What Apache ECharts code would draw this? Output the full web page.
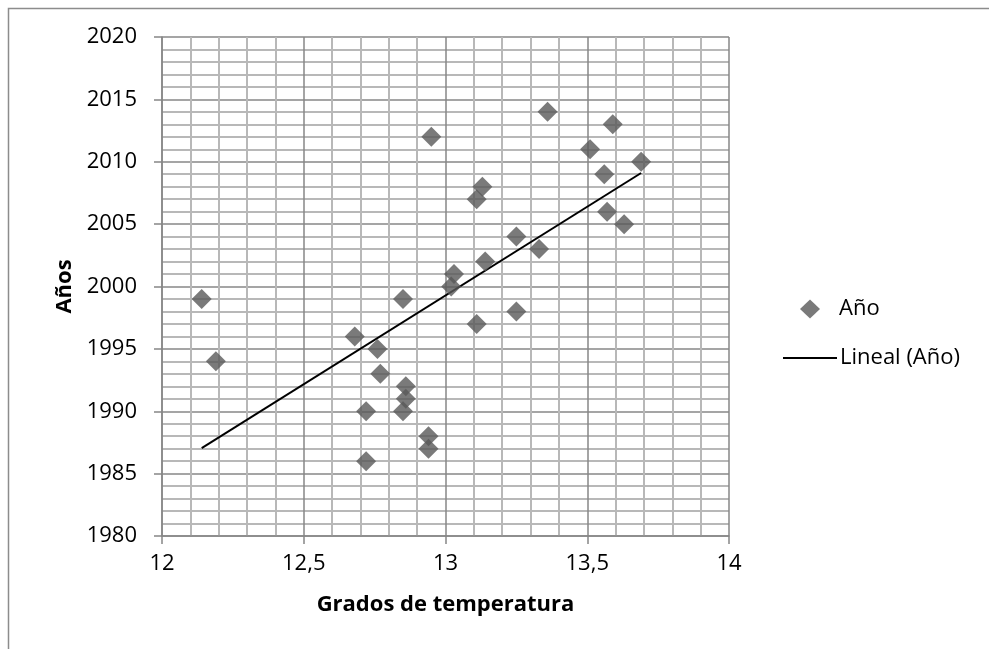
<!DOCTYPE html>
<html>
<head>
<meta charset="utf-8">
<title>Años vs grados de temperatura</title>
<script src="https://cdn.jsdelivr.net/npm/echarts@6/dist/echarts.min.js"></script>
<style>
  html, body { margin: 0; padding: 0; background: #fff; }
  #chart { width: 989px; height: 649px; }
</style>
</head>
<body>
<div id="chart"></div>
<script>
// Mean temperature (°C) recorded for each year
const temperatures = [
  12.14, 12.19, 12.68, 12.76, 12.77, 12.72, 12.72, 12.85, 12.86, 12.86,
  12.85, 12.94, 12.94, 12.95, 13.03, 13.02, 13.11, 13.13, 13.14, 13.11,
  13.25, 13.25, 13.33, 13.36, 13.51, 13.56, 13.59, 13.57, 13.63, 13.69
];
const years = [
  1999, 1994, 1996, 1995, 1993, 1990, 1986, 1999, 1992, 1991,
  1990, 1988, 1987, 2012, 2001, 2000, 2007, 2008, 2002, 1997,
  2004, 1998, 2003, 2014, 2011, 2009, 2013, 2006, 2005, 2010
];
const xTicks = [12, 12.5, 13, 13.5, 14];
const yTicks = [1980, 1985, 1990, 1995, 2000, 2005, 2010, 2015, 2020];

const FONT = 'Open Sans';

// Least-squares linear trend of year on temperature, drawn over the data range
function linearTrend(xs, ys) {
  const n = xs.length;
  let sx = 0, sy = 0, sxx = 0, sxy = 0;
  for (let i = 0; i < n; i++) {
    sx += xs[i]; sy += ys[i];
    sxx += xs[i] * xs[i]; sxy += xs[i] * ys[i];
  }
  const slope = (n * sxy - sx * sy) / (n * sxx - sx * sx);
  const intercept = (sy - slope * sx) / n;
  const x0 = Math.min.apply(null, xs), x1 = Math.max.apply(null, xs);
  return [[x0, intercept + slope * x0], [x1, intercept + slope * x1]];
}

const points = temperatures.map((t, i) => [t, years[i]]);
const trend = linearTrend(temperatures, years);

const legendText = { fontFamily: FONT, fontSize: 22, color: '#000' };

const chart = echarts.init(document.getElementById('chart'));
chart.setOption({
  animation: false,
  backgroundColor: '#ffffff',
  textStyle: { fontFamily: FONT },
  graphic: [{
    type: 'rect',
    shape: { x: 8.5, y: 8.5, width: 1100, height: 800 },
    style: { fill: 'none', stroke: '#8c8c8c', lineWidth: 1.5 },
    silent: true
  }],
  grid: { left: 162, right: 260, top: 37, bottom: 113 },
  legend: [
    {
      left: 800,
      top: 298,
      padding: 0,
      itemWidth: 20,
      itemHeight: 19,
      textStyle: Object.assign({ padding: [0, 0, 0, 14] }, legendText),
      data: [{ name: 'Año', icon: 'diamond' }]
    },
    {
      left: 783,
      top: 347,
      padding: 0,
      itemWidth: 54,
      itemHeight: 2,
      textStyle: Object.assign({ padding: [0, 0, 0, -2] }, legendText),
      data: [{ name: 'Lineal (Año)', icon: 'rect' }]
    }
  ],
  xAxis: {
    type: 'value',
    min: xTicks[0],
    max: xTicks[xTicks.length - 1],
    interval: 0.5,
    name: 'Grados de temperatura',
    nameLocation: 'middle',
    nameGap: 58,
    nameTextStyle: { fontFamily: FONT, fontSize: 22, fontWeight: 'bold', color: '#000' },
    axisLine: { lineStyle: { color: '#878787', width: 1.5 } },
    axisTick: { show: true, length: 8, inside: false, lineStyle: { color: '#878787', width: 1.5 } },
    axisLabel: {
      fontFamily: FONT, fontSize: 22, color: '#000', margin: 17,
      formatter: v => String(v).replace('.', ',')
    },
    splitLine: { show: true, lineStyle: { color: '#878787', width: 1.5 } },
    minorTick: { show: false, splitNumber: 5 },
    minorSplitLine: { show: true, lineStyle: { color: '#b8b8b8', width: 2 } }
  },
  yAxis: {
    type: 'value',
    min: yTicks[0],
    max: yTicks[yTicks.length - 1],
    interval: 5,
    name: 'Años',
    nameLocation: 'middle',
    nameGap: 86,
    nameRotate: 90,
    nameTextStyle: { fontFamily: FONT, fontSize: 22, fontWeight: 'bold', color: '#000' },
    axisLine: { show: true, lineStyle: { color: '#878787', width: 1.5 } },
    axisTick: { show: true, length: 8, inside: false, lineStyle: { color: '#878787', width: 1.5 } },
    axisLabel: {
      fontFamily: FONT, fontSize: 22, color: '#000', margin: 25,
      formatter: v => String(v)
    },
    splitLine: { show: true, lineStyle: { color: '#878787', width: 1.5 } },
    minorTick: { show: false, splitNumber: 5 },
    minorSplitLine: { show: true, lineStyle: { color: '#b8b8b8', width: 2 } }
  },
  series: [
    {
      name: 'Año',
      type: 'scatter',
      symbol: 'diamond',
      symbolSize: 20,
      itemStyle: { color: '#595959' },
      data: points,
      z: 3
    },
    {
      name: 'Lineal (Año)',
      type: 'line',
      symbol: 'none',
      showSymbol: false,
      lineStyle: { color: '#000', width: 2 },
      itemStyle: { color: '#000' },
      data: trend,
      z: 2
    }
  ]
});
</script>
</body>
</html>
